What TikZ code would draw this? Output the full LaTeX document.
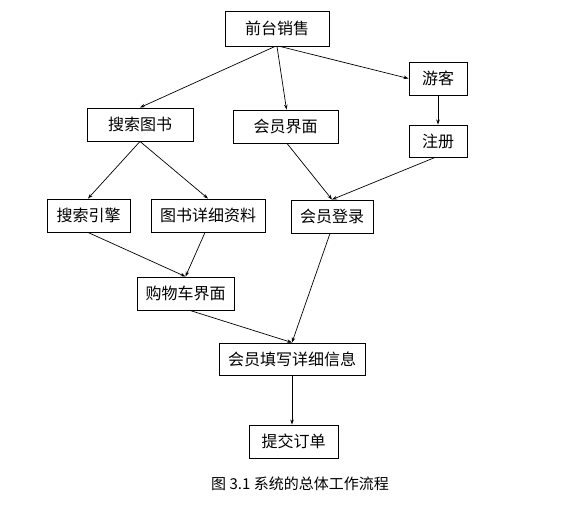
\documentclass[tikz,border=0pt]{standalone}
\usepackage{fontspec}
\setmainfont{Noto Sans CJK SC}
\usetikzlibrary{arrows.meta,calc}
\tikzset{
  box/.style={draw, line width=0.9pt, inner sep=0pt, font=\fontsize{16}{19}\selectfont},
  conn/.style={line width=0.7pt, -{Stealth[length=5pt,width=3.5pt]}}
}
\begin{document}
\begin{tikzpicture}[x=1pt,y=-1pt]
\useasboundingbox (0,0) rectangle (562,510);
\node[box, minimum width=104pt, minimum height=35pt] (qt) at (277,28.5) {前台销售};
\node[box, minimum width=58pt, minimum height=33pt] (yk) at (438,78.5) {游客};
\node[box, minimum width=105pt, minimum height=33pt] (hyjm) at (285.5,126.5) {会员界面};
\node[box, minimum width=58pt, minimum height=32pt] (zc) at (438,141) {注册};
\node[box, minimum width=106pt, minimum height=33pt] (sstu) at (140,124.5) {搜索图书};
\node[box, minimum width=83pt, minimum height=33pt] (ssyq) at (88.5,215.5) {搜索引擎};
\node[box, minimum width=114pt, minimum height=33pt] (tsxx) at (208,215.5) {图书详细资料};
\node[box, minimum width=82pt, minimum height=33pt] (hydl) at (332,216.5) {会员登录};
\node[box, minimum width=97pt, minimum height=33pt] (gwc) at (185.5,293.5) {购物车界面};
\node[box, minimum width=146pt, minimum height=32pt] (txxx) at (292,359) {会员填写详细信息};
\node[box, minimum width=89pt, minimum height=33pt] (tjdd) at (293.5,441.5) {提交订单};
\node[font=\fontsize{15}{18}\selectfont] (cap) at (300,484) {图 3.1 系统的总体工作流程};

\draw[conn] ([xshift=-2pt]qt.south) -- (sstu.north);
\draw[conn] (qt.south) -- ([xshift=1pt]hyjm.north);
\draw[conn] ([xshift=3pt]qt.south) -- (yk.west);
\draw[conn] (yk.south) -- (zc.north);
\draw[conn] (sstu.south) -- ([xshift=-0.5pt]ssyq.north);
\draw[conn] (sstu.south) -- (tsxx.north);
\draw[conn] ([xshift=1.5pt]hyjm.south) -- (hydl.north);
\draw[conn] ([xshift=-3pt]zc.south) -- (hydl.north);
\draw[conn] ([xshift=-0.5pt]ssyq.south) -- (gwc.north);
\draw[conn] ([xshift=-3pt]tsxx.south) -- (gwc.north);
\draw[conn] ([xshift=4.5pt]gwc.south) -- (txxx.north);
\draw[conn] ([xshift=-2pt]hydl.south) -- (txxx.north);
\draw[conn] (txxx.south) -- ([xshift=-1.5pt]tjdd.north);
\end{tikzpicture}
\end{document}
